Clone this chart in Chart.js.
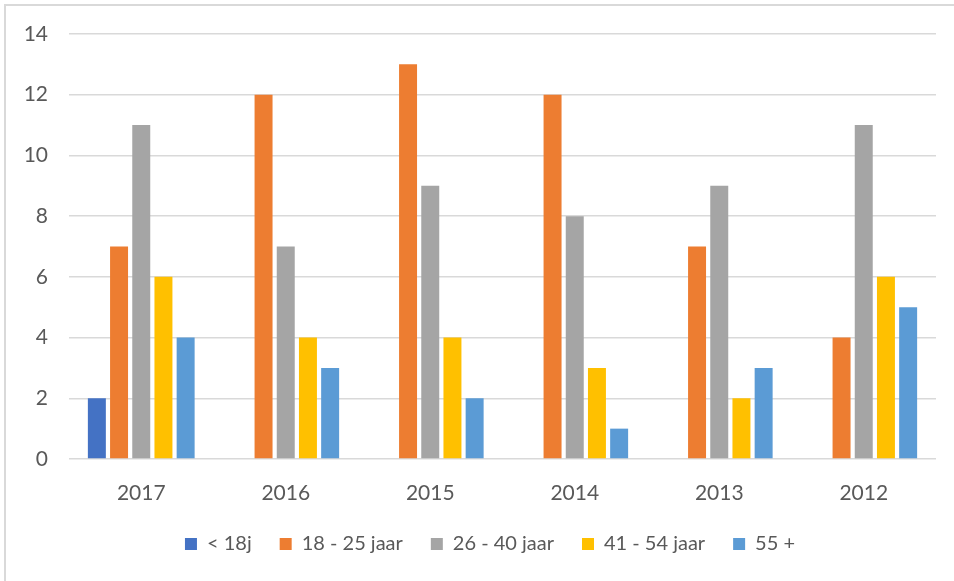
<!DOCTYPE html>
<html>
<head>
<meta charset="utf-8">
<script src="https://cdn.jsdelivr.net/npm/chart.js@4"></script>
<style>
  html, body { margin: 0; padding: 0; background: #fff; overflow: hidden; }
  #frame {
    position: absolute; left: 4px; top: 4px; width: 970px; height: 600px;
    border: 2px solid #d9d9d9; box-sizing: border-box;
  }
  #wrap { position: absolute; left: 0; top: 0; width: 954px; height: 581px; }
</style>
</head>
<body>
<div id="frame"></div>
<div id="wrap"><canvas id="chart"></canvas></div>
<script>
const years = ['2017', '2016', '2015', '2014', '2013', '2012'];
const seriesNames = ['< 18j', '18 - 25 jaar', '26 - 40 jaar', '41 - 54 jaar', '55 +'];
const under18 = [2, 0, 0, 0, 0, 0];
const age18to25 = [7, 12, 13, 12, 7, 4];
const age26to40 = [11, 7, 9, 8, 9, 11];
const age41to54 = [6, 4, 4, 3, 2, 6];
const age55plus = [4, 3, 2, 1, 3, 5];
const yTicks = [0, 2, 4, 6, 8, 10, 12, 14];

const colors = ['#4472C4', '#ED7D31', '#A5A5A5', '#FFC000', '#5B9BD5'];
const textColor = '#595959';
const gridColor = '#d9d9d9';

const series = [under18, age18to25, age26to40, age41to54, age55plus];

// Excel centres the legend a bit right of the canvas middle
const legendShift = {
    id: 'legendShift',
    afterLayout(chart) {
        const lg = chart.legend;
        if (lg) {
            lg.left += 12;
            lg.right += 12;
        }
    },
};

new Chart(document.getElementById('chart'), {
    type: 'bar',
    data: {
        labels: years,
        datasets: series.map((values, i) => ({
            label: seriesNames[i],
            data: values,
            backgroundColor: colors[i],
            borderWidth: 0,
            categoryPercentage: 0.768,
            barPercentage: 0.81,
        })),
    },
    options: {
        responsive: true,
        maintainAspectRatio: false,
        animation: false,
        layout: { padding: { left: 20, right: 18, top: 34, bottom: 17 } },
        plugins: {
            tooltip: { enabled: false },
            legend: {
                position: 'bottom',
                labels: {
                    boxWidth: 12,
                    boxHeight: 12,
                    padding: 28,
                    color: textColor,
                    font: { family: 'Lato', size: 20 },
                },
            },
        },
        scales: {
            x: {
                grid: { display: false },
                border: { display: false },
                ticks: {
                    color: textColor,
                    padding: 14,
                    maxRotation: 0,
                    font: { family: 'Lato', size: 21 },
                },
                afterFit: (scale) => { scale.height = 47; },
            },
            y: {
                min: 0,
                max: 14,
                afterBuildTicks: (scale) => {
                    scale.ticks = yTicks.map((v) => ({ value: v }));
                },
                grid: { color: gridColor, lineWidth: 1.5, drawTicks: false },
                border: { display: false },
                ticks: {
                    color: textColor,
                    padding: 21,
                    font: { family: 'Lato', size: 21 },
                },
                afterFit: (scale) => { scale.width = 49; },
            },
        },
    },
    plugins: [legendShift],
});
</script>
</body>
</html>
